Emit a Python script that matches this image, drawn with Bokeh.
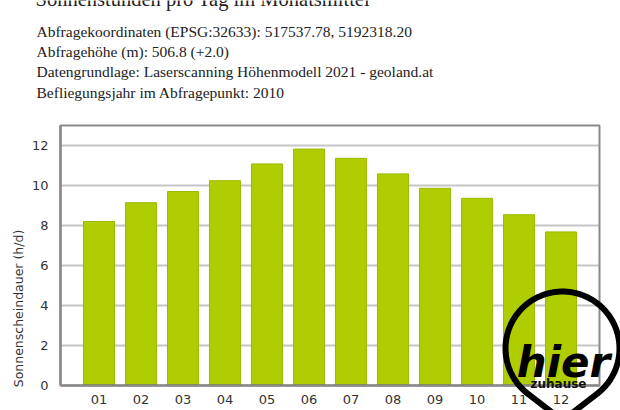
import numpy as np
from bokeh.plotting import figure
from bokeh.models import Range1d, Label, FixedTicker, PolyAnnotation, BoxAnnotation, ColumnDataSource
from bokeh.embed import file_html
from bokeh.resources import INLINE

# ---- data ----
months = ["01", "02", "03", "04", "05", "06", "07", "08", "09", "10", "11", "12"]
sun_hours = [8.20, 9.14, 9.70, 10.24, 11.08, 11.82, 11.36, 10.58, 9.86, 9.36, 8.54, 7.68]
y_ticks = [0, 2, 4, 6, 8, 10, 12]
y_max = 13
title_text = "Sonnenstunden pro Tag im Monatsmittel"
info_lines = [
    "Abfragekoordinaten (EPSG:32633): 517537.78, 5192318.20",
    "Abfragehöhe (m): 506.8 (+2.0)",
    "Datengrundlage: Laserscanning Höhenmodell 2021 - geoland.at",
    "Befliegungsjahr im Abfragepunkt: 2010",
]
y_label = "Sonnenscheindauer (h/d)"
logo_word = "hier"
logo_sub = "zuhause"

# ---- layout (canvas pixels) ----
W, H = 620, 410
BOX_L, BOX_R, BOX_T, BOX_B = 60, 599, 125, 385
EDGE_PAD = 0.9167          # from first/last bar centre to chart border, in category units

positions = list(range(1, len(months) + 1))
x_lo, x_hi = positions[0] - EDGE_PAD, positions[-1] + EDGE_PAD
kx = (BOX_R - BOX_L) / (x_hi - x_lo)
ky = (BOX_B - BOX_T) / (y_max - 0)
x_range = Range1d(x_lo - BOX_L / kx, x_hi + (W - BOX_R) / kx)
y_range = Range1d(0 - (H - BOX_B) / ky, y_max + BOX_T / ky)

src = ColumnDataSource(dict(x=positions, month=months, hours=sun_hours))

p = figure(width=W, height=H, x_range=x_range, y_range=y_range,
           output_backend="svg", toolbar_location=None,
           min_border_left=0, min_border_right=0, min_border_top=0, min_border_bottom=0)
p.background_fill_color = "white"
p.border_fill_color = "white"
p.outline_line_color = None
p.grid.grid_line_color = None

# horizontal grid lines inside the chart box
grid_y = [t for t in y_ticks if t > 0]
p.segment(x0=[x_lo] * len(grid_y), x1=[x_hi] * len(grid_y), y0=grid_y, y1=grid_y,
          line_color="#c6c6c6", line_width=2)

p.vbar(x="x", top="hours", width=0.74, source=src,
       fill_color="#afcd00", line_color="#9db800", line_width=1)

# chart border
p.add_layout(BoxAnnotation(left=x_lo, right=x_hi, bottom=0, top=y_max,
                           fill_color=None, fill_alpha=0, line_color="#8a8a8a",
                           line_alpha=1, line_width=2))

p.yaxis.fixed_location = x_lo
p.yaxis.bounds = (0, y_max)
p.yaxis.ticker = FixedTicker(ticks=y_ticks)
p.xaxis.fixed_location = 0
p.xaxis.bounds = (x_lo, x_hi)
p.xaxis.ticker = FixedTicker(ticks=positions)
p.xaxis.major_label_overrides = {pos: m for pos, m in zip(positions, months)}

for ax in (p.xaxis[0], p.yaxis[0]):
    ax.axis_line_color = "#555555"
    ax.axis_line_width = 2
    ax.major_tick_line_color = None
    ax.minor_tick_line_color = None
    ax.major_tick_out = 0
    ax.major_tick_in = 0
    ax.major_label_text_font = "DejaVu Sans"
    ax.major_label_text_font_size = "13px"
    ax.major_label_text_color = "#333333"
p.xaxis.major_label_standoff = 9
p.yaxis.major_label_standoff = 12

# title (cut off at the top like in the reference)
p.add_layout(Label(x=35, y=-2, x_units="canvas", y_units="canvas", text=title_text,
                   text_font="Liberation Serif", text_font_size="20.5px", text_color="#222222",
                   text_baseline="alphabetic", text_align="left"))
for i, line in enumerate(info_lines):
    p.add_layout(Label(x=36, y=31 + i * 20.2, x_units="canvas", y_units="canvas", text=line,
                       text_font="Liberation Serif", text_font_size="15.5px", text_color="#222222",
                       text_baseline="middle", text_align="left"))

p.add_layout(Label(x=18, y=308, x_units="canvas", y_units="canvas", text=y_label,
                   angle=np.pi / 2, text_font="DejaVu Sans", text_font_size="12.5px",
                   text_color="#333333", text_baseline="middle", text_align="center"))

# watermark pin
cx, cy, r, d = 562, 348, 57, 72
a0 = np.arccos(r / d)
th = np.linspace(a0, 2 * np.pi - a0, 90)
px = list(cx + r * np.sin(th)) + [cx]
py = list(cy + r * np.cos(th)) + [cy + d]
p.add_layout(PolyAnnotation(xs=px, ys=py, xs_units="canvas", ys_units="canvas",
                            fill_color=None, fill_alpha=0, line_color="black",
                            line_alpha=1, line_width=6))
p.add_layout(Label(x=563, y=362, x_units="canvas", y_units="canvas", text=logo_word,
                   text_font="DejaVu Sans", text_font_style="bold italic", text_font_size="42px",
                   text_color="black", text_baseline="alphabetic", text_align="center"))
p.add_layout(Label(x=558, y=383, x_units="canvas", y_units="canvas", text=logo_sub,
                   text_font="DejaVu Sans", text_font_style="bold", text_font_size="12px",
                   text_color="#111111", text_baseline="middle", text_align="center"))

open("out.html", "w").write(file_html(p, INLINE))
